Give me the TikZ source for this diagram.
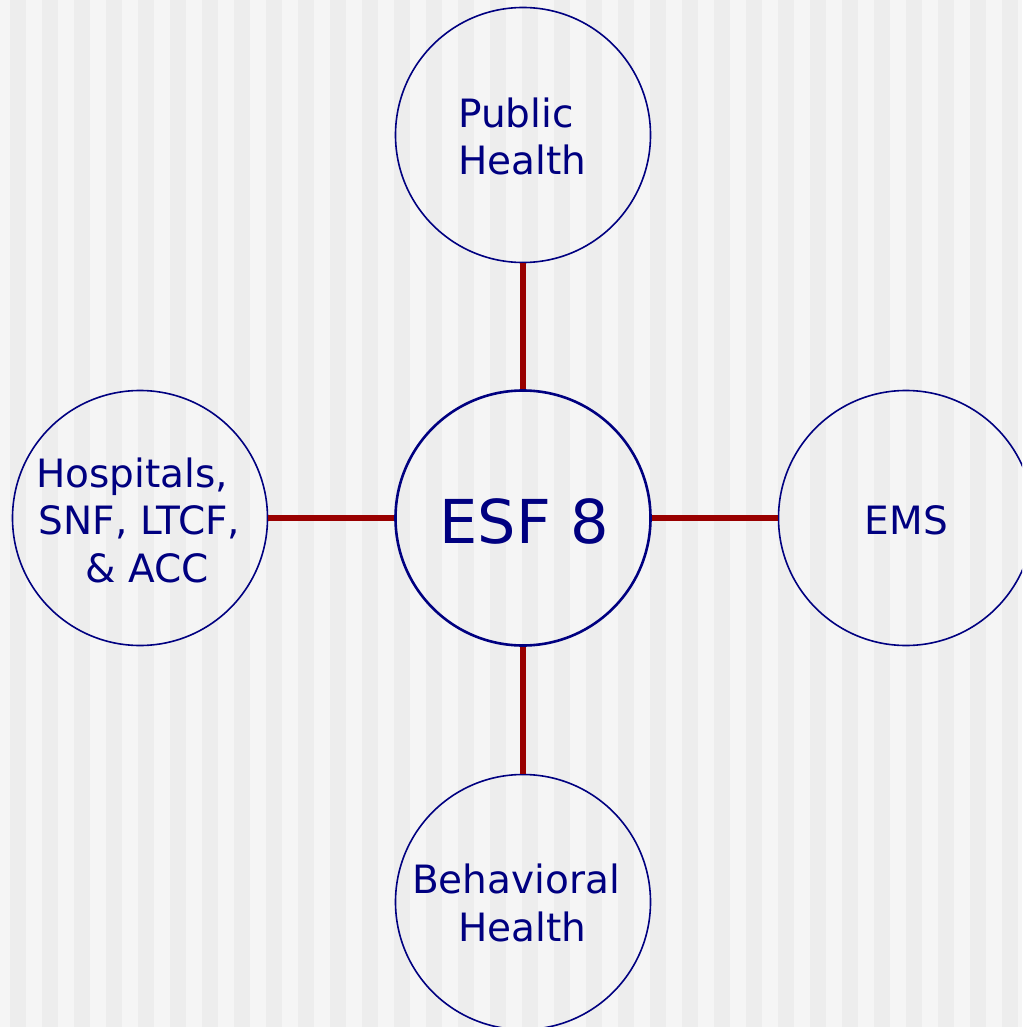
\documentclass[tikz,border=0pt]{standalone}
\usepackage{fontspec}
\setmainfont{DejaVu Sans}
\definecolor{navy}{HTML}{000080}
\definecolor{linkred}{HTML}{990000}
\definecolor{stripelight}{HTML}{F5F5F5}
\definecolor{stripedark}{HTML}{EDEDED}
\tikzset{
  bubble/.style={circle, draw=navy, line width=1.6pt, minimum size=255pt, inner sep=0pt},
  hub/.style={bubble, line width=2.6pt},
  lbl/.style={text=navy, inner sep=0pt, font=\fontsize{39}{47}\selectfont},
  biglbl/.style={text=navy, inner sep=0pt, font=\fontsize{60.5}{70}\selectfont},
  link/.style={draw=linkred, line width=5.5pt}
}
\begin{document}
\begin{tikzpicture}[x=1pt,y=1pt]
\useasboundingbox (0,0) rectangle (1022,-1027);
\clip (0,0) rectangle (1022,-1027);
\fill[stripelight] (0,0) rectangle (1022,-1027);
\foreach \k in {0,...,31} {
  \fill[stripedark] (10+32*\k,0) rectangle (26+32*\k,-1027);
}
% circles
\node[hub] (esf) at (523,-518) {};
\node[bubble] (ph) at (523,-135) {};
\node[bubble] (bh) at (523,-902) {};
\node[bubble] (hosp) at (140,-518) {};
\node[bubble] (ems) at (906,-518) {};
% connectors
\draw[link] (ph) -- (esf);
\draw[link] (esf) -- (bh);
\draw[link] (hosp) -- (esf);
\draw[link] (esf) -- (ems);
% labels
\node[biglbl, anchor=base] (esft) at (524,-543) {ESF 8};
\node[lbl, anchor=base] (pht1) at (516,-128) {Public};
\node[lbl, anchor=base] (pht2) at (522.5,-175) {Health};
\node[lbl, anchor=base] (bht1) at (516,-893) {Behavioral};
\node[lbl, anchor=base] (bht2) at (522.5,-941) {Health};
\node[lbl, anchor=base] (hot1) at (132,-487) {Hospitals,};
\node[lbl, anchor=base] (hot2) at (139.5,-534) {SNF, LTCF,};
\node[lbl, anchor=base] (hot3) at (147,-582) {\& ACC};
\node[lbl, anchor=base] (emst) at (906.5,-534) {EMS};
\end{tikzpicture}
\end{document}
